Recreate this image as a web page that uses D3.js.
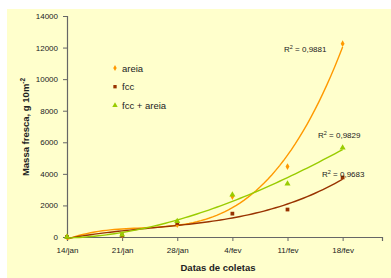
<!DOCTYPE html>
<html>
<head>
<meta charset="utf-8">
<script src="https://cdn.jsdelivr.net/npm/d3@7"></script>
<style>
  body { margin: 0; background: #fff; }
  text { font-family: "Liberation Sans", Arial, sans-serif; fill: #222; }
</style>
</head>
<body>
<div id="chart"></div>
<script>
// dates of the samplings (days since 14/jan)
var days = [0, 7, 14, 21, 28, 35];
var dayLabels = ["14/jan", "21/jan", "28/jan", "4/fev", "11/fev", "18/fev"];

// fresh mass, g 10m-2
var areia = [0, 120, 780, 2560, 4460, 12250];
var fcc = [0, 100, 880, 1480, 1740, 3770];
var fccAreia = [0, 150, 1000, 2680, 3380, 5650];

var yTicks = [0, 2000, 4000, 6000, 8000, 10000, 12000, 14000];
var seriesNames = ["areia", "fcc", "fcc + areia"];
var r2Labels = ["0,9881", "0,9683", "0,9829"];

var width = 391, height = 278;

var svg = d3.select("#chart").append("svg")
    .attr("width", width)
    .attr("height", height);

// chart area
svg.append("rect")
    .attr("x", 7).attr("y", 9)
    .attr("width", width - 7).attr("height", height - 9)
    .attr("fill", "#ffffcc");

var x = d3.scaleLinear().domain([0, 40]).range([67, 382]);
var y = d3.scaleLinear().domain([0, 14000]).range([237, 16]);

// axes
var yAxis = svg.append("g")
    .attr("transform", "translate(67,0)")
    .call(d3.axisLeft(y).tickValues(yTicks).tickSize(4).tickPadding(5)
        .tickFormat(d3.format("d")));
var xAxis = svg.append("g")
    .attr("transform", "translate(0,237)")
    .call(d3.axisBottom(x).tickValues(days).tickSize(4).tickPadding(6)
        .tickFormat(function(d, i) { return dayLabels[i]; }));

[yAxis, xAxis].forEach(function(a) {
    a.select(".domain").attr("stroke", "#666").attr("stroke-width", 1.2);
    a.selectAll(".tick line").attr("stroke", "#666");
    a.selectAll(".tick text").attr("font-size", "8px")
        .attr("fill", "#222")
        .attr("font-family", "Liberation Sans, Arial, sans-serif");
});

// axis titles
svg.append("text")
    .attr("x", 218).attr("y", 271)
    .attr("text-anchor", "middle")
    .attr("font-size", "9.5px")
    .attr("font-weight", "bold")
    .text("Datas de coletas");

var ylab = svg.append("text")
    .attr("transform", "translate(29,127) rotate(-90)")
    .attr("text-anchor", "middle")
    .attr("font-size", "9.5px")
    .attr("font-weight", "bold");
ylab.append("tspan").text("Massa fresca, g 10m");
ylab.append("tspan").attr("dy", -4).attr("font-size", "6.5px").text("-2");

// polynomial least squares, x in weeks
var polyfit = function(xs, ys, order) {
    var n = order + 1, A = [], b = [];
    for (var i = 0; i < n; i++) {
        A.push([]);
        for (var j = 0; j < n; j++) {
            A[i].push(d3.sum(xs, function(v) { return Math.pow(v, i + j); }));
        }
        b.push(d3.sum(xs, function(v, k) { return ys[k] * Math.pow(v, i); }));
    }
    // gaussian elimination
    for (var c = 0; c < n; c++) {
        for (var r = c + 1; r < n; r++) {
            var f = A[r][c] / A[c][c];
            for (var k = c; k < n; k++) A[r][k] -= f * A[c][k];
            b[r] -= f * b[c];
        }
    }
    var coef = new Array(n);
    for (var r2 = n - 1; r2 >= 0; r2--) {
        var s = b[r2];
        for (var k2 = r2 + 1; k2 < n; k2++) s -= A[r2][k2] * coef[k2];
        coef[r2] = s / A[r2][r2];
    }
    return function(v) {
        return d3.sum(coef, function(cf, p) { return cf * Math.pow(v, p); });
    };
};

var series = [
    { name: seriesNames[0], values: areia, color: "#ff9900", shape: d3.symbolDiamond, size: 13 },
    { name: seriesNames[1], values: fcc, color: "#993300", shape: d3.symbolSquare, size: 14 },
    { name: seriesNames[2], values: fccAreia, color: "#99cc00", shape: d3.symbolTriangle, size: 16 }
];

var line = d3.line()
    .x(function(d) { return x(d[0]); })
    .y(function(d) { return y(d[1]); });

series.forEach(function(s) {
    var weeks = days.map(function(d) { return d / 7; });
    var fit = polyfit(weeks, s.values, 3);
    var pts = d3.range(0, 35.01, 0.5).map(function(d) { return [d, fit(d / 7)]; });
    svg.append("path")
        .attr("d", line(pts))
        .attr("fill", "none")
        .attr("stroke", s.color)
        .attr("stroke-width", 1.4);
});

series.forEach(function(s) {
    svg.selectAll(null)
        .data(s.values)
        .enter().append("path")
        .attr("d", d3.symbol().type(s.shape).size(s.size))
        .attr("transform", function(v, i) {
            return "translate(" + x(days[i]) + "," + y(v) + ")";
        })
        .attr("fill", s.color);
});

// legend
var legend = svg.append("g").attr("transform", "translate(115,68)");
series.forEach(function(s, i) {
    var g = legend.append("g").attr("transform", "translate(0," + (i * 18.7) + ")");
    g.append("path")
        .attr("d", d3.symbol().type(s.shape).size(s.size * 0.8))
        .attr("fill", s.color);
    g.append("text")
        .attr("x", 7).attr("y", 3.5)
        .attr("font-size", "9.5px")
        .text(s.name);
});

// R2 labels
var r2Pos = [[284, 52], [322, 177], [318, 138]];
r2Labels.forEach(function(l, i) {
    var t = svg.append("text")
        .attr("x", r2Pos[i][0]).attr("y", r2Pos[i][1])
        .attr("font-size", "8px");
    t.append("tspan").text("R");
    t.append("tspan").attr("dy", -3.5).attr("font-size", "5.5px").text("2");
    t.append("tspan").attr("dy", 3.5).text(" = " + l);
});
</script>
</body>
</html>
